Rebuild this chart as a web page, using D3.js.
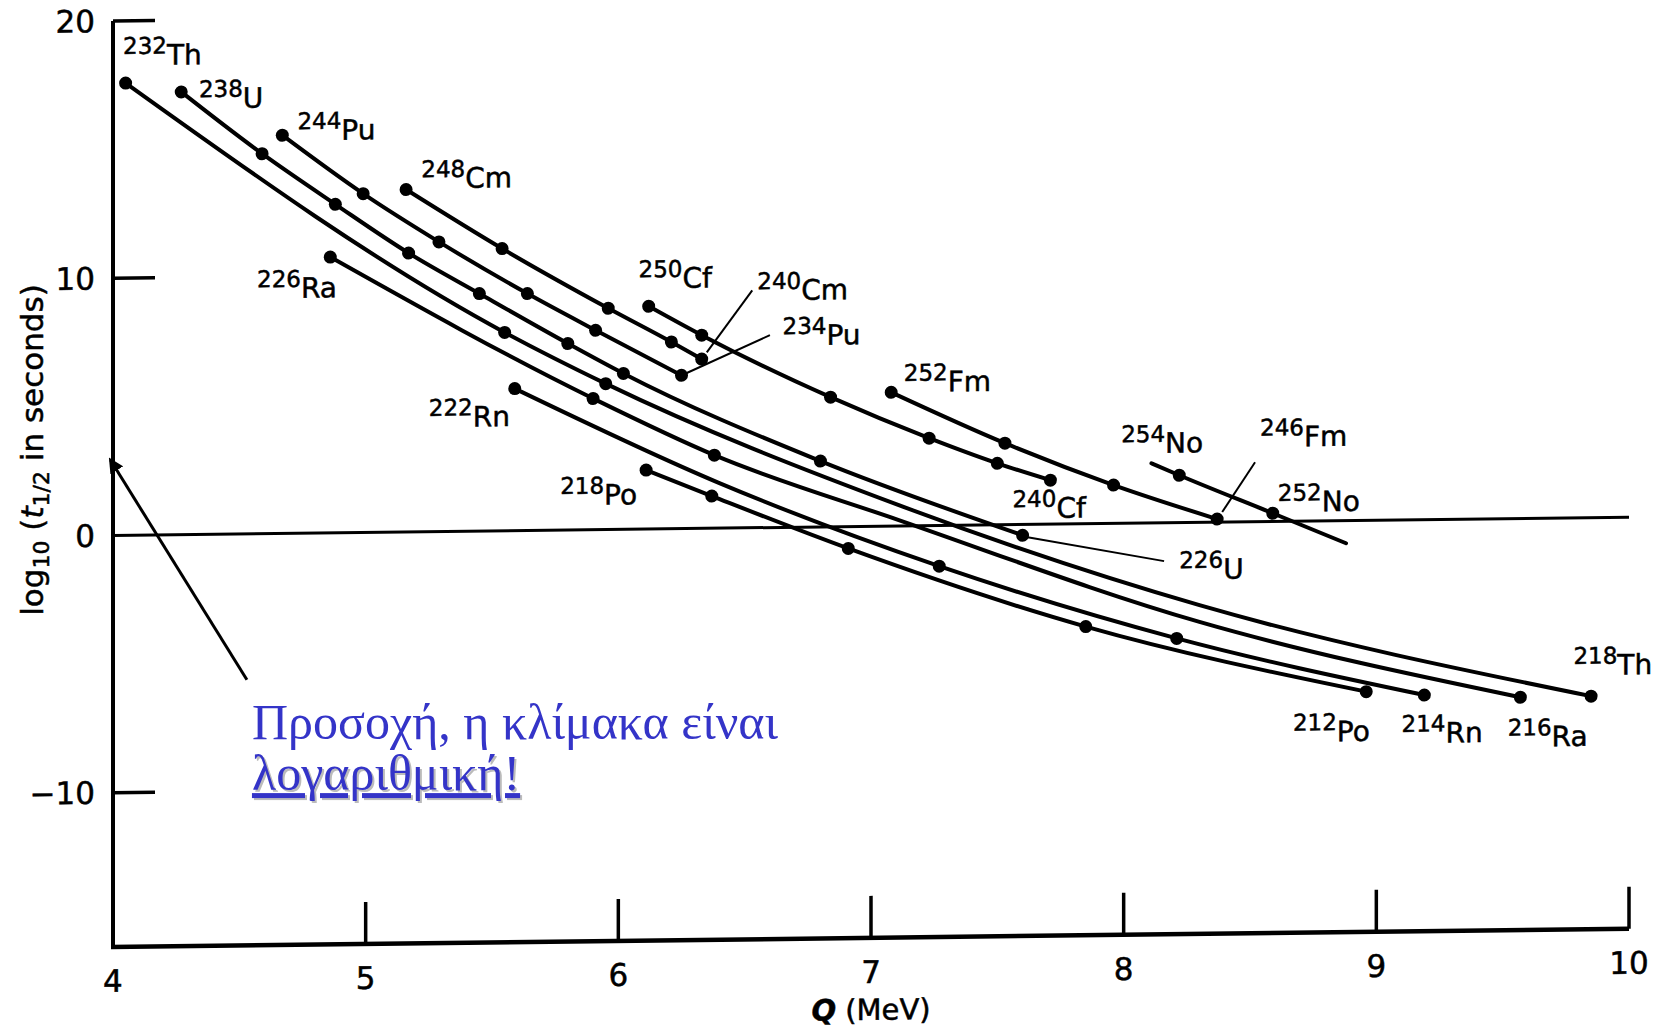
<!DOCTYPE html>
<meta charset="utf-8">
<style>
  body { margin: 0; background: #fff; }
  svg text { font-family: "DejaVu Sans", "Liberation Sans", sans-serif; fill: #000; }
  svg text.scan { stroke: #000; stroke-width: 0.5px; }
</style>
<body>
<div id="chart"></div>
<script src="https://d3js.org/d3.v7.min.js"></script>
<script>
  // each point: [Q in MeV, log10 of half-life in s, 1 = dot drawn]
  const thorium = [[4.05, 17.58, 1], [5.55, 7.71, 1], [5.95, 5.67, 1], [7.11, 0.81, 0],
    [8.30, -3.22, 0], [9.85, -6.94, 1]];
  const uranium = [[4.27, 17.21, 1], [4.59, 14.77, 1], [4.88, 12.77, 1], [5.17, 10.84, 1],
    [5.45, 9.23, 1], [5.80, 7.25, 1], [6.02, 6.06, 1], [6.80, 2.56, 1], [7.60, -0.42, 1]];
  const plutonium = [[4.67, 15.48, 1], [4.99, 13.17, 1], [5.29, 11.26, 1], [5.64, 9.21, 1],
    [5.91, 7.75, 1], [6.25, 5.96, 1]];
  const curium = [[5.16, 13.31, 1], [5.54, 10.97, 1], [5.96, 8.60, 1], [6.21, 7.26, 1], [6.33, 6.58, 1]];
  const californium = [[6.12, 8.66, 1], [6.33, 7.51, 1], [6.84, 5.04, 1], [7.23, 3.40, 1],
    [7.50, 2.39, 1], [7.71, 1.71, 1]];
  const fermium = [[7.08, 5.20, 1], [7.53, 3.17, 1], [7.96, 1.49, 1], [8.37, 0.12, 1]];
  const nobelium = [[8.11, 2.32, 0], [8.22, 1.84, 1], [8.59, 0.32, 1], [8.88, -0.88, 0]];
  const radium = [[4.86, 10.72, 1], [5.90, 5.10, 1], [6.38, 2.84, 1], [7.11, 0.23, 0],
    [8.30, -3.87, 0], [9.57, -6.95, 1]];
  const radon = [[5.59, 5.52, 1], [6.40, 1.75, 0], [7.27, -1.58, 1], [8.21, -4.50, 1], [9.19, -6.82, 1]];
  const polonium = [[6.11, 2.29, 1], [6.37, 1.25, 1], [6.91, -0.85, 1], [7.85, -4.0, 1], [8.96, -6.66, 1]];

  // [mass number, element, Q and log t where the label sits]
  const isotopeLabels = [
    ['232', 'Th', 4.04, 18.28], ['238', 'U', 4.34, 16.57], ['244', 'Pu', 4.73, 15.28],
    ['248', 'Cm', 5.22, 13.35], ['250', 'Cf', 6.08, 9.36], ['240', 'Cm', 6.55, 8.84],
    ['234', 'Pu', 6.65, 7.08], ['252', 'Fm', 7.13, 5.21], ['254', 'No', 7.99, 2.72],
    ['246', 'Fm', 8.54, 2.91], ['252', 'No', 8.61, 0.37], ['240', 'Cf', 7.56, 0.25],
    ['226', 'U', 8.22, -2.20], ['218', 'Th', 9.78, -6.11], ['212', 'Po', 8.67, -8.57],
    ['214', 'Rn', 9.10, -8.67], ['216', 'Ra', 9.52, -8.87], ['226', 'Ra', 4.57, 9.15],
    ['222', 'Rn', 5.25, 4.07], ['218', 'Po', 5.77, 0.97]];

  // leader lines from a point to its label: [Q1, t1, Q2, t2]
  const leaders = [[6.35, 6.84, 6.53, 9.23], [6.26, 6.0, 6.60, 7.48],
    [8.39, 0.39, 8.52, 2.31], [7.62, -0.50, 8.16, -1.49]];

  const xTicks = [4, 5, 6, 7, 8, 9, 10];
  const yTicks = [20, 10, 0, -10];
  const yTickText = ['20', '10', '0', '\u221210'];

  const note = ['Προσοχή, η κλίμακα είναι', 'λογαριθμική!'];
  const arrowFrom = [4.53, -5.61];
  const arrowTo = [3.99, 2.93];

  const width = 1671;
  const height = 1029;

  const x = d3.scaleLinear().domain([4, 10]).range([113, 1629]);
  const y = d3.scaleLinear().domain([-16, 20]).range([947, 21]);

  const svg = d3.select('#chart').append('svg')
      .attr('width', width)
      .attr('height', height);

  // the scanned page is a little tilted
  const x0 = x(4);
  const plot = svg.append('g')
      .attr('transform', `translate(${x0},0) skewY(-0.69) translate(${-x0},0)`);

  // axes
  plot.append('line')
      .attr('x1', x(4)).attr('x2', x(4))
      .attr('y1', y(20)).attr('y2', y(-16))
      .attr('stroke', '#000').attr('stroke-width', 4);
  plot.append('line')
      .attr('x1', x(4) - 2).attr('x2', x(10))
      .attr('y1', y(-16)).attr('y2', y(-16))
      .attr('stroke', '#000').attr('stroke-width', 4.5);
  plot.append('line')
      .attr('x1', x(4)).attr('x2', x(10))
      .attr('y1', y(0)).attr('y2', y(0))
      .attr('stroke', '#000').attr('stroke-width', 3);

  plot.selectAll('.ytick').data(yTicks.filter(d => d !== 0)).enter().append('line')
      .attr('x1', x(4)).attr('x2', x(4) + 42)
      .attr('y1', d => y(d)).attr('y2', d => y(d))
      .attr('stroke', '#000').attr('stroke-width', 3.5);
  plot.selectAll('.xtick').data(xTicks.slice(1)).enter().append('line')
      .attr('x1', d => x(d)).attr('x2', d => x(d))
      .attr('y1', y(-16)).attr('y2', y(-16) - 42)
      .attr('stroke', '#000').attr('stroke-width', 3.5);

  plot.selectAll('.ylab').data(yTicks).enter().append('text')
      .attr('class', 'scan')
      .attr('x', x(4) - 18)
      .attr('y', d => y(d) + 11)
      .attr('text-anchor', 'end')
      .style('font-size', '31px')
      .text((d, i) => yTickText[i]);
  plot.selectAll('.xlab').data(xTicks).enter().append('text')
      .attr('class', 'scan')
      .attr('x', d => x(d))
      .attr('y', y(-16) + 45)
      .attr('text-anchor', 'middle')
      .style('font-size', '31px')
      .text(d => d);

  const xTitle = plot.append('text')
      .attr('class', 'scan')
      .attr('x', x(7))
      .attr('y', y(-16) + 82)
      .attr('text-anchor', 'middle')
      .style('font-size', '29px');
  xTitle.append('tspan').style('font-style', 'italic').style('font-weight', 'bold').text('Q');
  xTitle.append('tspan').text(' (MeV)');

  const yTitle = svg.append('text')
      .attr('class', 'scan')
      .attr('transform', 'translate(43,450) rotate(-90)')
      .attr('text-anchor', 'middle')
      .style('font-size', '31px');
  yTitle.append('tspan').text('log');
  yTitle.append('tspan').attr('dy', 6).style('font-size', '22px').text('10');
  yTitle.append('tspan').attr('dy', -6).text(' (');
  yTitle.append('tspan').style('font-style', 'italic').text('t');
  yTitle.append('tspan').attr('dy', 6).style('font-size', '22px').text('1/2');
  yTitle.append('tspan').attr('dy', -6).text(' in seconds)');

  // curves and points
  const series = [thorium, uranium, plutonium, curium, californium, fermium, nobelium,
    radium, radon, polonium];
  const line = d3.line()
      .x(d => x(d[0]))
      .y(d => y(d[1]))
      .curve(d3.curveMonotoneX);

  plot.selectAll('.curve').data(series).enter().append('path')
      .attr('d', line)
      .attr('fill', 'none')
      .attr('stroke', '#000')
      .attr('stroke-width', 4)
      .attr('stroke-linecap', 'round');

  plot.selectAll('.pts').data(series).enter().append('g')
      .selectAll('circle').data(d => d.filter(p => p[2])).enter().append('circle')
      .attr('cx', d => x(d[0]))
      .attr('cy', d => y(d[1]))
      .attr('r', 6.5)
      .attr('fill', '#000');

  plot.selectAll('.leader').data(leaders).enter().append('line')
      .attr('x1', d => x(d[0])).attr('y1', d => y(d[1]))
      .attr('x2', d => x(d[2])).attr('y2', d => y(d[3]))
      .attr('stroke', '#000').attr('stroke-width', 2);

  const labels = plot.selectAll('.iso').data(isotopeLabels).enter().append('text')
      .attr('class', 'scan')
      .attr('x', d => x(d[2]))
      .attr('y', d => y(d[3]));
  labels.append('tspan')
      .attr('dy', -11)
      .style('font-size', '23px')
      .text(d => d[0]);
  labels.append('tspan')
      .attr('dy', 11)
      .style('font-size', '28px')
      .text(d => d[1]);

  // added note with arrow
  const defs = svg.append('defs');
  defs.append('marker')
      .attr('id', 'head')
      .attr('viewBox', '0 0 10 10')
      .attr('refX', 8).attr('refY', 5)
      .attr('markerWidth', 5).attr('markerHeight', 5)
      .attr('orient', 'auto')
      .append('path').attr('d', 'M0,0 L10,5 L0,10 z').attr('fill', '#000');

  svg.append('line')
      .attr('x1', x(arrowFrom[0])).attr('y1', y(arrowFrom[1]))
      .attr('x2', x(arrowTo[0])).attr('y2', y(arrowTo[1]))
      .attr('stroke', '#000').attr('stroke-width', 3)
      .attr('marker-end', 'url(#head)');

  const noteX = x(4.55);
  const noteFont = '"Liberation Serif", serif';
  svg.append('text')
      .attr('x', noteX).attr('y', y(-7.9))
      .style('font-family', noteFont)
      .style('font-size', '50px')
      .style('fill', '#3434c8')
      .text(note[0]);
  svg.append('text')
      .attr('x', noteX + 2).attr('y', y(-9.9) + 2)
      .style('font-family', noteFont)
      .style('font-size', '50px')
      .style('fill', '#bbb')
      .style('text-decoration', 'underline')
      .text(note[1]);
  svg.append('text')
      .attr('x', noteX).attr('y', y(-9.9))
      .style('font-family', noteFont)
      .style('font-size', '50px')
      .style('fill', '#3434c8')
      .style('text-decoration', 'underline')
      .text(note[1]);
</script>
